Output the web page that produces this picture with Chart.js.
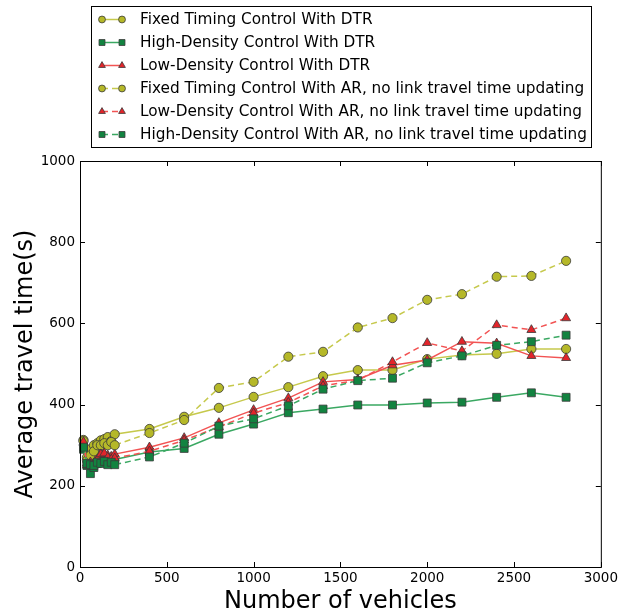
<!DOCTYPE html>
<html>
<head>
<meta charset="utf-8">
<script src="https://cdn.jsdelivr.net/npm/chart.js"></script>
<style>
  html, body { margin: 0; padding: 0; background: #fff; }
  #wrap { width: 621px; height: 614px; }
</style>
</head>
<body>
<div id="wrap"><canvas id="travelChart" width="621" height="614"></canvas></div>
<script>
// ======================
// DATA
// ======================
const vehicles = [20, 40, 60, 80, 100, 120, 140, 160, 180, 200, 400, 600, 800, 1000, 1200, 1400, 1600, 1800, 2000, 2200, 2400, 2600, 2800];

const fixedDTR = [313, 270, 290, 300, 305, 312, 315, 320, 310, 327, 340, 370, 392, 419, 443, 470, 485, 485, 512, 522, 525, 537, 537];
const highDTR  = [290, 250, 230, 245, 255, 260, 258, 262, 255, 265, 283, 292, 327, 352, 380, 389, 399, 399, 404, 406, 418, 429, 418];
const lowDTR   = [305, 255, 260, 262, 275, 282, 278, 275, 272, 278, 295, 318, 355, 387, 416, 456, 462, 497, 510, 555, 551, 520, 515];
const fixedAR  = [310, 262, 275, 285, 300, 300, 305, 300, 308, 300, 330, 362, 441, 456, 518, 530, 590, 613, 658, 672, 715, 717, 754];
const lowAR    = [308, 250, 258, 255, 265, 278, 280, 270, 265, 268, 285, 312, 345, 379, 405, 446, 460, 505, 552, 532, 596, 584, 613];
const highAR   = [295, 255, 252, 250, 258, 255, 260, 252, 258, 252, 271, 305, 347, 365, 397, 438, 459, 465, 503, 520, 546, 555, 571];

const seriesLabels = [
  "Fixed Timing Control With DTR",
  "High-Density Control With DTR",
  "Low-Density Control With DTR",
  "Fixed Timing Control With AR, no link travel time updating",
  "Low-Density Control With AR, no link travel time updating",
  "High-Density Control With AR, no link travel time updating",
];

const xTicks = [0, 500, 1000, 1500, 2000, 2500, 3000];
const yTicks = [0, 200, 400, 600, 800, 1000];

// colours
const YELLOW = { marker: "#b5b828", line: "#c6c94c" };
const GREEN = { marker: "#128340", line: "#3aa862" };
const RED = { marker: "#e2252b", line: "#f25353" };
const EDGE = "#3a3a3a";
const FONT = "'DejaVu Sans', sans-serif";

function makeSeries(label, values, col, shape, dashed, idx) {
  return {
    label: label,
    data: vehicles.map((v, i) => ({ x: v, y: values[i] })),
    borderColor: col.line,
    backgroundColor: col.marker,
    borderWidth: 1.5,
    borderDash: dashed ? [6, 4] : [],
    pointStyle: shape,
    pointRadius: shape === "rect" ? 5.6 : shape === "triangle" ? 5.2 : 4.6,
    pointBackgroundColor: col.marker,
    pointBorderColor: EDGE,
    pointBorderWidth: 0.8,
    tension: 0,
    clip: false,
    order: 10 - idx,
  };
}

const datasets = [
  makeSeries(seriesLabels[0], fixedDTR, YELLOW, "circle", false, 0),
  makeSeries(seriesLabels[1], highDTR, GREEN, "rect", false, 1),
  makeSeries(seriesLabels[2], lowDTR, RED, "triangle", false, 2),
  makeSeries(seriesLabels[3], fixedAR, YELLOW, "circle", true, 3),
  makeSeries(seriesLabels[4], lowAR, RED, "triangle", true, 4),
  makeSeries(seriesLabels[5], highAR, GREEN, "rect", true, 5),
];

// ======================
// HELPERS
// ======================
function drawMarker(ctx, shape, r, x, y, fill) {
  ctx.save();
  ctx.fillStyle = fill;
  ctx.strokeStyle = EDGE;
  ctx.lineWidth = 0.8;
  ctx.setLineDash([]);
  ctx.beginPath();
  if (shape === "circle") {
    ctx.arc(x, y, r, 0, Math.PI * 2);
  } else if (shape === "rect") {
    const s = r * Math.SQRT1_2;
    ctx.rect(x - s, y - s, 2 * s, 2 * s);
  } else {
    ctx.moveTo(x, y - r);
    ctx.lineTo(x + r * 0.866, y + r * 0.5);
    ctx.lineTo(x - r * 0.866, y + r * 0.5);
    ctx.closePath();
  }
  ctx.fill();
  ctx.stroke();
  ctx.restore();
}

// frame + inward ticks like matplotlib
const framePlugin = {
  id: "frame",
  afterDatasetsDraw(chart) {
    const { ctx, chartArea: a, scales } = chart;
    ctx.save();
    ctx.strokeStyle = "#000";
    ctx.lineWidth = 1;
    ctx.setLineDash([]);
    ctx.strokeRect(a.left + 0.5, a.top + 0.5, a.right - a.left, a.bottom - a.top);
    ctx.beginPath();
    xTicks.forEach((t) => {
      const px = Math.round(scales.x.getPixelForValue(t)) + 0.5;
      ctx.moveTo(px, a.bottom); ctx.lineTo(px, a.bottom - 5);
      ctx.moveTo(px, a.top); ctx.lineTo(px, a.top + 5);
    });
    yTicks.forEach((t) => {
      const py = Math.round(scales.y.getPixelForValue(t)) + 0.5;
      ctx.moveTo(a.left, py); ctx.lineTo(a.left + 5, py);
      ctx.moveTo(a.right, py); ctx.lineTo(a.right - 5, py);
    });
    ctx.stroke();
    ctx.restore();
  },
};

// legend box above the axes
const legendPlugin = {
  id: "boxLegend",
  afterDraw(chart) {
    const ctx = chart.ctx;
    ctx.save();
    ctx.fillStyle = "#fff";
    ctx.fillRect(91.5, 6.5, 500, 141);
    ctx.strokeStyle = "#000";
    ctx.lineWidth = 1;
    ctx.strokeRect(91.5, 6.5, 500, 141);
    chart.data.datasets.forEach((ds, i) => {
      const y = 19.5 + i * 23;
      ctx.strokeStyle = ds.borderColor;
      ctx.lineWidth = 1.5;
      ctx.setLineDash(ds.borderDash);
      ctx.beginPath();
      ctx.moveTo(102, y);
      ctx.lineTo(122, y);
      ctx.stroke();
      const r = ds.pointRadius * 0.75;
      drawMarker(ctx, ds.pointStyle, r, 102, y, ds.pointBackgroundColor);
      drawMarker(ctx, ds.pointStyle, r, 122, y, ds.pointBackgroundColor);
      ctx.setLineDash([]);
      ctx.fillStyle = "#000";
      ctx.font = "15.3px " + FONT;
      ctx.textBaseline = "middle";
      ctx.textAlign = "left";
      ctx.fillText(ds.label, 140, y + 1);
    });
    ctx.restore();
  },
};

const plainTick = (v) => String(v);

// ======================
// CHART
// ======================
new Chart(document.getElementById("travelChart").getContext("2d"), {
  type: "line",
  data: { datasets: datasets },
  options: {
    responsive: false,
    animation: false,
    devicePixelRatio: 1,
    layout: { padding: { top: 161, right: 18, bottom: 0, left: 0 } },
    plugins: { legend: { display: false }, tooltip: { enabled: false } },
    scales: {
      x: {
        type: "linear",
        min: 0,
        max: 3000,
        afterBuildTicks: (scale) => { scale.ticks = xTicks.map((v) => ({ value: v })); },
        afterFit: (scale) => { scale.height = 47; },
        grid: { display: false, drawTicks: false },
        border: { display: false },
        ticks: { color: "#000", font: { family: FONT, size: 13.5 }, padding: 3, maxRotation: 0, callback: plainTick },
        title: {
          display: true,
          text: "Number of vehicles",
          color: "#000",
          font: { family: FONT, size: 24 },
          padding: { top: 0, bottom: -2 },
        },
      },
      y: {
        min: 0,
        max: 1000,
        afterBuildTicks: (scale) => { scale.ticks = yTicks.map((v) => ({ value: v })); },
        afterFit: (scale) => { scale.width = 80; },
        grid: { display: false, drawTicks: false },
        border: { display: false },
        ticks: { color: "#000", font: { family: FONT, size: 13.5 }, padding: 5, callback: plainTick },
        title: {
          display: true,
          text: "Average travel time(s)",
          color: "#000",
          font: { family: FONT, size: 24 },
          padding: { top: 11, bottom: 0 },
        },
      },
    },
  },
  plugins: [framePlugin, legendPlugin],
});
</script>
</body>
</html>
